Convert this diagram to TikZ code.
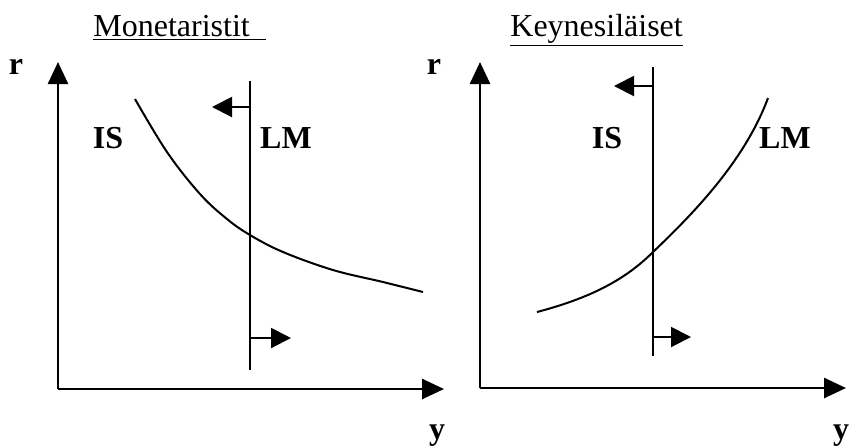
\documentclass[tikz,border=0pt]{standalone}
\usepackage{fontspec}
\setmainfont{Liberation Serif}
\usetikzlibrary{arrows.meta}

\begin{document}
\begin{tikzpicture}[
    x=0.5pt, y=-0.5pt,
    axis/.style={line width=1.3pt, -{Triangle[length=11pt,width=10pt]}},
    curve/.style={line width=1pt},
    shiftarrow/.style={line width=1pt, -{Triangle[length=10pt,width=10pt]}},
    lbl/.style={font=\fontsize{16}{18}\selectfont\bfseries, inner sep=0pt},
    title/.style={font=\fontsize{16}{18}\selectfont, inner sep=0pt, anchor=base west}
]
    \useasboundingbox (0,0) rectangle (851,447);

    % Monetaristit
    \node[title] (tleft) at (93,36) {\underline{Monetaristit\ \ }};
    \coordinate (o1) at (58,389);
    \coordinate (ytop1) at (58,62);
    \coordinate (xend1) at (444,389);
    \draw[axis] (o1) -- (ytop1);
    \draw[axis] (o1) -- (xend1);
    \node[lbl] (r1) at (16,67) {r};
    \node[lbl, anchor=north] (y1) at (437,424) {y};

    % Vertical LM with shift arrows
    \coordinate (lmtop1) at (250,81);
    \coordinate (lmbot1) at (250,370);
    \draw[curve] (lmtop1) -- (lmbot1);
    \coordinate (ls1) at (250,107);
    \coordinate (le1) at (212,107);
    \coordinate (rs1) at (250,338);
    \coordinate (re1) at (291,338);
    \draw[shiftarrow] (ls1) -- (le1);
    \draw[shiftarrow] (rs1) -- (re1);
    \node[lbl] (is1) at (108,138) {IS};
    \node[lbl] (lm1) at (286,138) {LM};

    % IS curve
    \draw[curve] plot[smooth, tension=0.6] coordinates {(135,99) (167,152) (200,194) (227,219) (250,235) (283,252) (333,270) (383,282) (423,292)};

    % Keynesilaiset
    \node[title] (tright) at (510,36) {\underline{Keynesiläiset}};
    \coordinate (o2) at (480,388);
    \coordinate (ytop2) at (480,62);
    \coordinate (xend2) at (846,388);
    \draw[axis] (o2) -- (ytop2);
    \draw[axis] (o2) -- (xend2);
    \node[lbl] (r2) at (434,67) {r};
    \node[lbl, anchor=north] (y2) at (841,424) {y};

    % Vertical IS with shift arrows
    \coordinate (istop2) at (653,67);
    \coordinate (isbot2) at (653,356);
    \draw[curve] (istop2) -- (isbot2);
    \coordinate (ls2) at (653,86);
    \coordinate (le2) at (614,86);
    \coordinate (rs2) at (653,337);
    \coordinate (re2) at (691,337);
    \draw[shiftarrow] (ls2) -- (le2);
    \draw[shiftarrow] (rs2) -- (re2);
    \node[lbl] (is2) at (607,138) {IS};
    \node[lbl] (lm2) at (785,138) {LM};

    % LM curve
    \draw[curve] (537,312) .. controls (590,298) and (625,280) .. (653,252)
        .. controls (695,212) and (745,160) .. (768,98);
\end{tikzpicture}
\end{document}
